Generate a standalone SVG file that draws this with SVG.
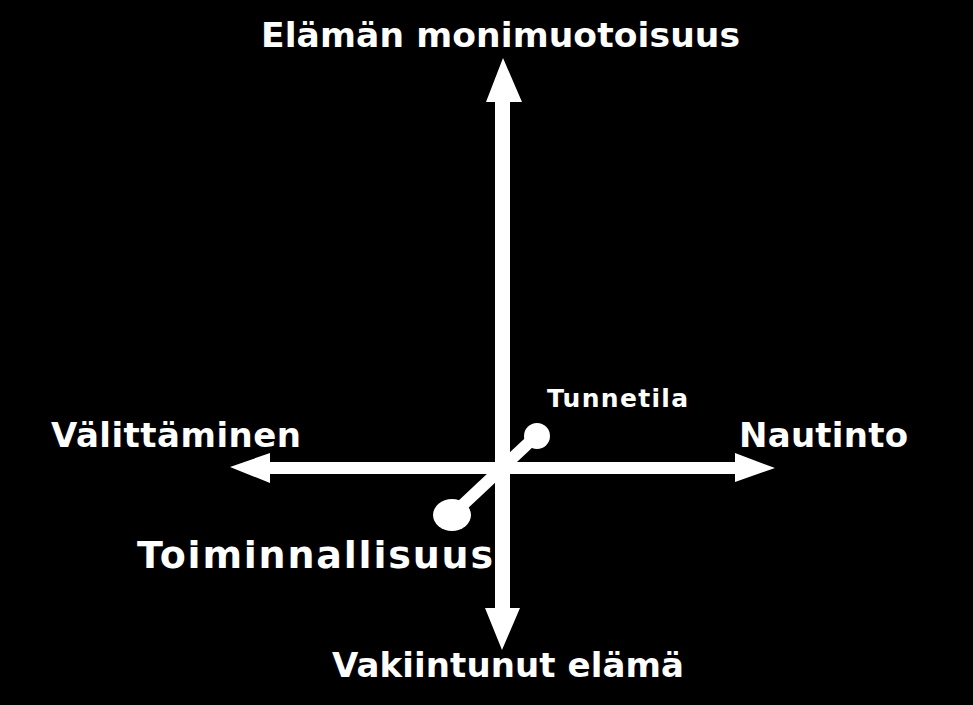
<svg xmlns="http://www.w3.org/2000/svg" width="973" height="705" viewBox="0 0 973 705">
<style>
.lbl{font-family:"DejaVu Sans","Liberation Sans",sans-serif;font-weight:bold;fill:#fff}
.arr{fill:#fff;stroke:none}
</style>
<rect width="973" height="705" fill="#000"/>
<g id="connectors">
<path class="arr" d="M495,102 L486,102 L503,58 L522,102 L510,102 L510,608 L520,608 L502,650 L485,608 L495,608 Z"/>
<path class="arr" d="M270,462 L270,453 L230,467 L270,483 L270,474 L735,474 L735,482 L775,468 L735,453 L735,462 Z"/>
<g id="dumbbell">
<line x1="537" y1="435" x2="452" y2="515" stroke="#fff" stroke-width="12"/>
<circle cx="537" cy="436" r="13" fill="#fff"/>
<ellipse cx="452" cy="515" rx="19" ry="16" fill="#fff"/>
</g>
</g>
<g id="n-top"><text class="lbl" x="261" y="47" font-size="34.5" textLength="479">Elämän monimuotoisuus</text></g>
<g id="n-left"><text class="lbl" x="51" y="447" font-size="34" textLength="250">Välittäminen</text></g>
<g id="n-right"><text class="lbl" x="739" y="447" font-size="34" textLength="169">Nautinto</text></g>
<g id="n-bottom"><text class="lbl" x="332" y="677" font-size="34" textLength="352">Vakiintunut elämä</text></g>
<g id="n-toim"><text class="lbl" x="137" y="568" font-size="38" textLength="356">Toiminnallisuus</text></g>
<g id="n-tunne"><text class="lbl" x="547" y="407" font-size="25" textLength="141">Tunnetila</text></g>
</svg>
